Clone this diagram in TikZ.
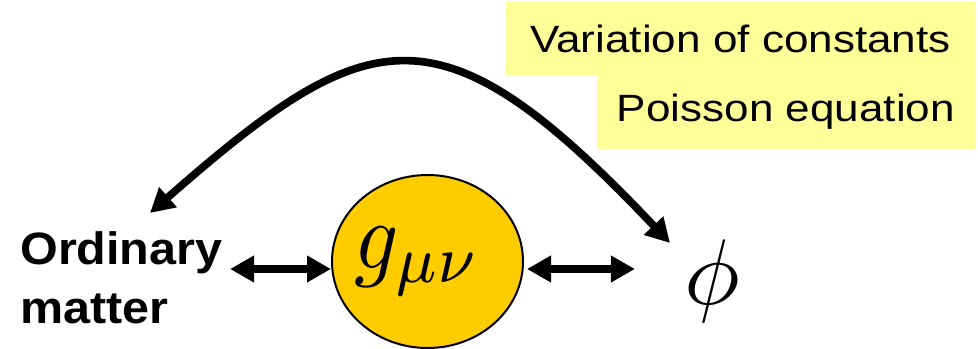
\documentclass[tikz,border=0pt]{standalone}
\usepackage{fontspec}
\setmainfont{Liberation Sans}
\usetikzlibrary{arrows.meta,shapes.geometric}
\definecolor{boxyellow}{HTML}{FFFF99}
\definecolor{gold}{HTML}{FFCC00}
\begin{document}
\begin{tikzpicture}[x=0.75pt,y=-0.75pt,
  ybox/.style={fill=boxyellow, inner sep=0pt, font=\fontsize{28.5}{34}\selectfont},
  tip/.tip={Triangle[length=18pt,width=19pt]},
  conn/.style={line width=5.75pt, tip-tip},
  ]
\useasboundingbox (0,0) rectangle (978,349);
\node[ybox, minimum width=351.75pt, minimum height=54.75pt] (var) at (740.5,38.5)
  {\scalebox{1.16}[1]{Variation of constants}};
\node[ybox, minimum width=283.5pt, minimum height=55.5pt] (poi) at (786,112)
  {\scalebox{1.16}[1]{Poisson equation}};
\node[anchor=base west, inner sep=0pt, font=\bfseries\fontsize{34}{44.5}\selectfont] (om) at (20,264)
  {\scalebox{1.07}[1]{\begin{tabular}[t]{@{}l@{}}Ordinary\\matter\end{tabular}}};
\node[ellipse, draw, line width=1.5pt, fill=gold, minimum width=143.25pt, minimum height=129.75pt, inner sep=0pt] (g) at (427.5,261.5)
  {\hspace{-15pt}\raisebox{-4.5pt}{\scalebox{6.5}[7.2]{$g_{\mu\nu}$}}};
\node[inner sep=0pt] (phi) at (712,281.5) {\scalebox{7}{$\phi$}};
\coordinate (arcL) at (150,213);
\coordinate (arcR) at (670,243);
\draw[conn] ([xshift=5.5pt]om.east |- 0,269) -- (g.west |- 0,269);
\draw[conn] ([xshift=2.25pt]g.east |- 0,269) -- ([xshift=-36.75pt]phi.west |- 0,269);
\draw[conn] (arcR) .. controls (440,0) and (370,20) .. (arcL);
\end{tikzpicture}
\end{document}
